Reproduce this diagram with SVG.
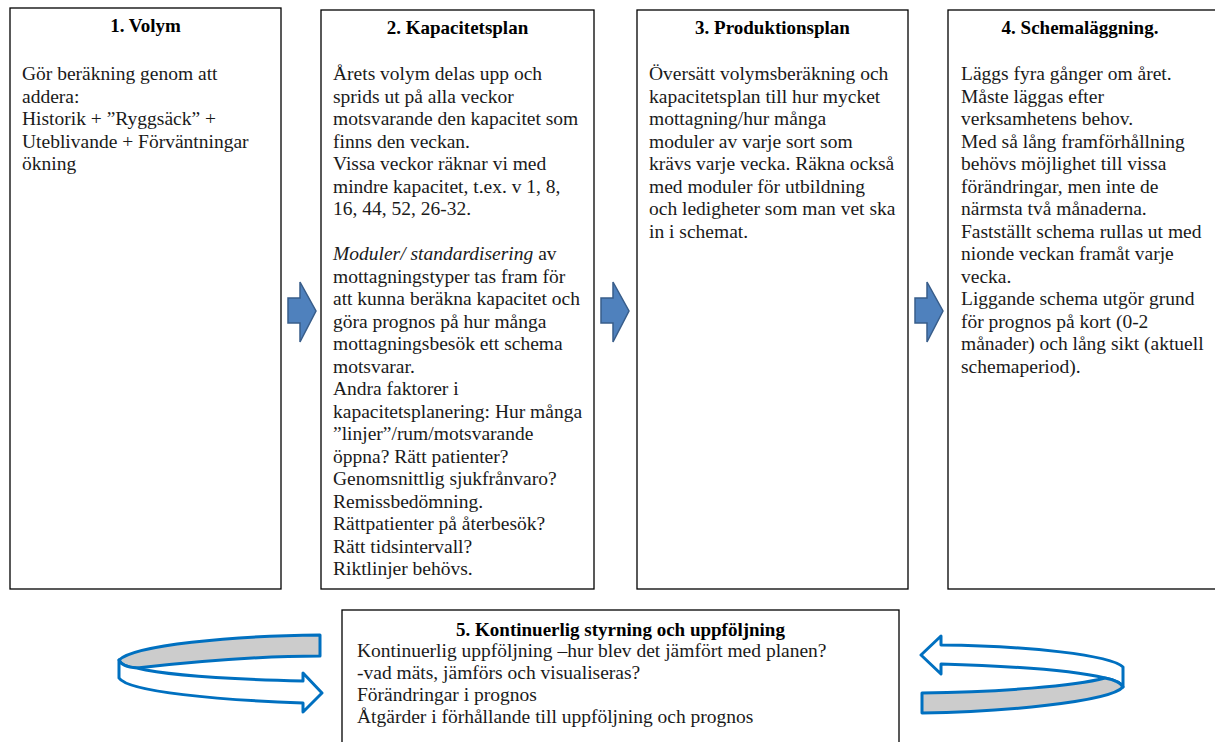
<svg xmlns="http://www.w3.org/2000/svg" width="1215" height="742" viewBox="0 0 1215 742">
<style>
.box{fill:#fff;stroke:#000;stroke-width:1.3}
.t{font-family:'Liberation Serif',Tinos,'Times New Roman','DejaVu Serif',serif;font-size:19.5px;fill:#1a1a1a}
.h{font-family:'Liberation Serif',Tinos,'Times New Roman','DejaVu Serif',serif;font-size:19px;font-weight:bold;fill:#000;text-anchor:middle}
.blk{fill:#4F81BD;stroke:#385D8A;stroke-width:1.5}
.ring{stroke:#0070C0;stroke-width:3;stroke-linejoin:round}
</style>
<rect width="1215" height="742" fill="#fff"/>
<g id="node1">
<rect class="box" x="10" y="8" width="271" height="581"/>
<text class="h" x="145.5" y="32">1. Volym</text>
<text class="t" x="22" y="80">Gör beräkning genom att</text>
<text class="t" x="22" y="102.5">addera:</text>
<text class="t" x="22" y="125">Historik + ”Ryggsäck” +</text>
<text class="t" x="22" y="147.5">Uteblivande + Förväntningar</text>
<text class="t" x="22" y="170">ökning</text>
</g>
<g id="node2">
<rect class="box" x="321" y="10" width="273" height="579"/>
<text class="h" x="457.5" y="34">2. Kapacitetsplan</text>
<text class="t" x="333" y="80">Årets volym delas upp och</text>
<text class="t" x="333" y="102.5">sprids ut på alla veckor</text>
<text class="t" x="333" y="125">motsvarande den kapacitet som</text>
<text class="t" x="333" y="147.5">finns den veckan.</text>
<text class="t" x="333" y="170">Vissa veckor räknar vi med</text>
<text class="t" x="333" y="192.5">mindre kapacitet, t.ex. v 1, 8,</text>
<text class="t" x="333" y="215">16, 44, 52, 26-32.</text>
<text class="t" x="333" y="260"><tspan font-style="italic">Moduler/ standardisering</tspan> av</text>
<text class="t" x="333" y="282.5">mottagningstyper tas fram för</text>
<text class="t" x="333" y="305">att kunna beräkna kapacitet och</text>
<text class="t" x="333" y="327.5">göra prognos på hur många</text>
<text class="t" x="333" y="350">mottagningsbesök ett schema</text>
<text class="t" x="333" y="372.5">motsvarar.</text>
<text class="t" x="333" y="395">Andra faktorer i</text>
<text class="t" x="333" y="417.5">kapacitetsplanering: Hur många</text>
<text class="t" x="333" y="440">”linjer”/rum/motsvarande</text>
<text class="t" x="333" y="462.5">öppna? Rätt patienter?</text>
<text class="t" x="333" y="485">Genomsnittlig sjukfrånvaro?</text>
<text class="t" x="333" y="507.5">Remissbedömning.</text>
<text class="t" x="333" y="530">Rättpatienter på återbesök?</text>
<text class="t" x="333" y="552.5">Rätt tidsintervall?</text>
<text class="t" x="333" y="575">Riktlinjer behövs.</text>
</g>
<g id="node3">
<rect class="box" x="637" y="10" width="271" height="579"/>
<text class="h" x="772.5" y="34">3. Produktionsplan</text>
<text class="t" x="649" y="80">Översätt volymsberäkning och</text>
<text class="t" x="649" y="102.5">kapacitetsplan till hur mycket</text>
<text class="t" x="649" y="125">mottagning/hur många</text>
<text class="t" x="649" y="147.5">moduler av varje sort som</text>
<text class="t" x="649" y="170">krävs varje vecka. Räkna också</text>
<text class="t" x="649" y="192.5">med moduler för utbildning</text>
<text class="t" x="649" y="215">och ledigheter som man vet ska</text>
<text class="t" x="649" y="237.5">in i schemat.</text>
</g>
<g id="node4">
<rect class="box" x="948" y="10" width="275" height="579"/>
<text class="h" x="1080" y="34">4. Schemaläggning.</text>
<text class="t" x="961" y="80">Läggs fyra gånger om året.</text>
<text class="t" x="961" y="102.5">Måste läggas efter</text>
<text class="t" x="961" y="125">verksamhetens behov.</text>
<text class="t" x="961" y="147.5">Med så lång framförhållning</text>
<text class="t" x="961" y="170">behövs möjlighet till vissa</text>
<text class="t" x="961" y="192.5">förändringar, men inte de</text>
<text class="t" x="961" y="215">närmsta två månaderna.</text>
<text class="t" x="961" y="237.5">Fastställt schema rullas ut med</text>
<text class="t" x="961" y="260">nionde veckan framåt varje</text>
<text class="t" x="961" y="282.5">vecka.</text>
<text class="t" x="961" y="305">Liggande schema utgör grund</text>
<text class="t" x="961" y="327.5">för prognos på kort (0-2</text>
<text class="t" x="961" y="350">månader) och lång sikt (aktuell</text>
<text class="t" x="961" y="372.5">schemaperiod).</text>
</g>
<g id="node5">
<rect class="box" x="342" y="610" width="557" height="140"/>
<text class="h" x="620.5" y="636">5. Kontinuerlig styrning och uppföljning</text>
<text class="t" x="357" y="657">Kontinuerlig uppföljning –hur blev det jämfört med planen?</text>
<text class="t" x="357" y="679">-vad mäts, jämförs och visualiseras?</text>
<text class="t" x="357" y="701">Förändringar i prognos</text>
<text class="t" x="357" y="723">Åtgärder i förhållande till uppföljning och prognos</text>
</g>
<g id="connectors">
<path class="blk" d="M288,298 L300,298 L300,282 L316,311 L300,342 L300,323 L288,323 Z"/>
<path class="blk" d="M601,298 L613,298 L613,282 L629,311 L613,342 L613,323 L601,323 Z"/>
<path class="blk" d="M915,298 L927,298 L927,282 L943,311 L927,342 L927,323 L915,323 Z"/>
<g id="loop-left">
<path class="ring" fill="#CCCCCC" d="M320,635 C230,636 135,645 119,660 Q122,667 137,668 C200,661 260,656 320,656 Z"/>
<path class="ring" fill="#fff" d="M119,660 L119,678 C128,692 220,700 303,703 L303,712 L322,693 L303,673 L303,681 C220,679 165,675 137,668 Q122,667 119,660 Z"/>
</g>
<g id="loop-right">
<path class="ring" fill="#fff" d="M941,636 L921,655 L941,674 L941,664 C1010,666 1075,671 1105,678 Q1120,681 1123,687 L1123,667 C1110,655 1030,646 941,645 Z"/>
<path class="ring" fill="#CCCCCC" d="M922,693 C1000,692 1075,686 1105,678 Q1120,681 1123,687 C1110,702 1000,712 922,713 Z"/>
</g>
</g>
</svg>
